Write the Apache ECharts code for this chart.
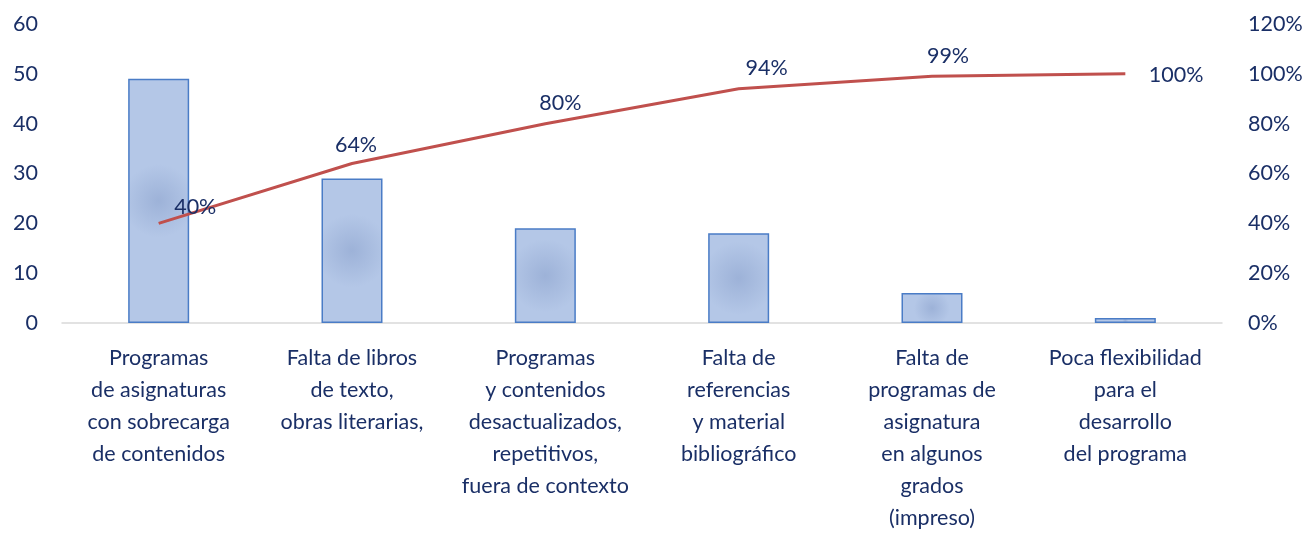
<!DOCTYPE html>
<html>
<head>
<meta charset="utf-8">
<script src="https://cdn.jsdelivr.net/npm/echarts@6/dist/echarts.min.js"></script>
<style>
  html, body { margin: 0; padding: 0; background: #fff; }
  #chart { width: 1310px; height: 534px; }
</style>
</head>
<body>
<div id="chart"></div>
<script>
const categories = [
  'Programas\nde asignaturas\ncon sobrecarga\nde contenidos',
  'Falta de libros\nde texto,\nobras literarias,',
  'Programas\ny contenidos\ndesactualizados,\nrepetitivos,\nfuera de contexto',
  'Falta de\nreferencias\ny material\nbibliográfico',
  'Falta de\nprogramas de\nasignatura\nen algunos\ngrados\n(impreso)',
  'Poca flexibilidad\npara el\ndesarrollo\ndel programa'
];
const counts = [49, 29, 19, 18, 6, 1];
const cumulativePct = [40, 64, 80, 94, 99, 100];
const leftTicks = [0, 10, 20, 30, 40, 50, 60];
const rightTicks = [0, 20, 40, 60, 80, 100, 120];

const textColor = '#1A2F66';
const font = 'Lato, "Noto Sans", sans-serif';

// label placement per point (Excel auto placement)
const labelPlacement = [
  { position: 'right', offset: [10, -16] },
  { position: 'top', offset: [4, -2] },
  { position: 'top', offset: [15, -4] },
  { position: 'top', offset: [28, -4] },
  { position: 'top', offset: [16, -4] },
  { position: 'right', offset: [18, 1] }
];

const chart = echarts.init(document.getElementById('chart'));

chart.setOption({
  backgroundColor: '#ffffff',
  animation: false,
  grid: { left: 62, right: 88, top: 24, bottom: 211, outerBoundsMode: 'none' },
  xAxis: {
    type: 'category',
    data: categories,
    axisLine: { lineStyle: { color: '#D9D9D9', width: 1.5 } },
    axisTick: { show: false },
    axisLabel: {
      color: textColor,
      fontFamily: font,
      fontSize: 21.5,
      lineHeight: 32,
      margin: 19,
      interval: 0,
      align: 'center'
    }
  },
  yAxis: [
    {
      type: 'value',
      min: leftTicks[0],
      max: leftTicks[leftTicks.length - 1],
      interval: 10,
      splitLine: { show: false },
      axisLine: { show: false },
      axisTick: { show: false },
      axisLabel: { color: textColor, fontFamily: font, fontSize: 21.5, margin: 24 }
    },
    {
      type: 'value',
      min: rightTicks[0],
      max: rightTicks[rightTicks.length - 1],
      interval: 20,
      splitLine: { show: false },
      axisLine: { show: false },
      axisTick: { show: false },
      axisLabel: {
        color: textColor, fontFamily: font, fontSize: 21.5, margin: 26,
        formatter: '{value}%'
      }
    }
  ],
  series: [
    {
      type: 'bar',
      data: counts,
      barWidth: 61,
      itemStyle: {
        color: {
          type: 'radial', x: 0.5, y: 0.5, r: 0.6,
          colorStops: [
            { offset: 0, color: '#9DB2D8' },
            { offset: 1, color: '#B4C7E7' }
          ]
        },
        borderColor: '#4A7CC6',
        borderWidth: 1.5
      }
    },
    {
      type: 'line',
      yAxisIndex: 1,
      data: cumulativePct.map((v, i) => ({
        value: v,
        label: labelPlacement[i]
      })),
      symbol: 'circle',
      symbolSize: 1,
      showSymbol: true,
      itemStyle: { color: 'rgba(0,0,0,0)' },
      lineStyle: { color: '#C0504D', width: 3 },
      label: {
        show: true,
        color: textColor,
        fontFamily: font,
        fontSize: 21.5,
        formatter: '{c}%'
      }
    }
  ]
});
</script>
</body>
</html>
